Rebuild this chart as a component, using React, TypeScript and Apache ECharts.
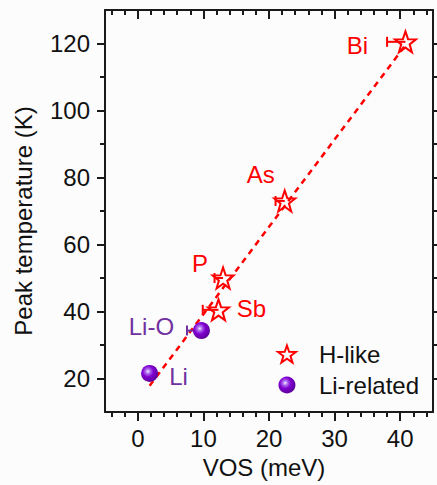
import React, { useEffect, useRef } from "react";
import * as echarts from "echarts";

// ---- data ----
const hNames = ["Bi", "As", "P", "Sb"];
const hVOS = [40.8, 22.4, 13.0, 12.3];
const hTemp = [120.5, 73.0, 50.0, 40.5];
const hVOSLow = [38.0, 21.0, 11.7, 9.9];

const liNames = ["Li-O", "Li"];
const liVOS = [9.7, 1.8];
const liTemp = [34.3, 21.5];
const liVOSLow: (number | null)[] = [7.5, null];

const fitVOS = [1.8, 40.8];
const fitTemp = [17.8, 119.5];

const xMajorTicks = [0, 10, 20, 30, 40];
const xMinorTicks = [-4, -2, 2, 4, 6, 8, 12, 14, 16, 18, 22, 24, 26, 28, 32, 34, 36, 38, 42, 44];
const yMajorTicks = [20, 40, 60, 80, 100, 120];
const yMinorTicks = [30, 50, 70, 90, 110];

// ---- styles ----
const FONT = "'Liberation Sans', Arial, sans-serif";
const AX = "#1a1a1a";
const RED = "#ff0000";
const PURPLE = "#7030a0";
const STAR =
  "path://M10,0 L12.351,6.764 L19.511,6.910 L13.804,11.236 L15.878,18.090 L10,14 L4.122,18.090 L6.196,11.236 L0.489,6.910 L7.649,6.764 Z";

const labelOffsets: Record<string, [number, number]> = {
  Bi: [-48, 4],
  As: [-24, -26],
  P: [-23, -15],
  Sb: [33, -1],
  "Li-O": [-50, -4],
  Li: [29, 3],
};

const sphereColor = new echarts.graphic.RadialGradient(0.4, 0.38, 0.65, [
  { offset: 0, color: "#f4efff" },
  { offset: 0.2, color: "#b070f0" },
  { offset: 0.5, color: "#8000d0" },
  { offset: 1, color: "#5a0095" },
]);

function errRender(color: string) {
  return (params: any, api: any) => {
    const y = api.value(1);
    const p = api.coord([api.value(0), y]);
    const lo = api.coord([api.value(2), y]);
    return {
      type: "group",
      children: [
        { type: "line", shape: { x1: lo[0], y1: p[1], x2: p[0], y2: p[1] }, style: { stroke: color, lineWidth: 2 } },
        { type: "line", shape: { x1: lo[0], y1: p[1] - 5, x2: lo[0], y2: p[1] + 5 }, style: { stroke: color, lineWidth: 2 } },
      ],
    };
  };
}

export default function App() {
  const ref = useRef<HTMLDivElement>(null);
  useEffect(() => {
    if (!ref.current) return;
    const chart = echarts.init(ref.current, null, { renderer: "svg" });
    const lineStyle = { color: AX, width: 2 };
    const baseX = { type: "value", min: -5, max: 45, splitLine: { show: false } };
    const baseY = { type: "value", min: 10, max: 130, splitLine: { show: false } };
    const labelText = { fontSize: 24, color: "#111", fontFamily: FONT };

    chart.setOption({
      animation: false,
      backgroundColor: "#fcfcfc",
      textStyle: { fontFamily: FONT },
      grid: { left: 105, right: 4, top: 10, bottom: 73, containLabel: false },
      legend: {
        data: ["H-like", "Li-related"],
        orient: "vertical",
        left: 272,
        top: 337,
        itemWidth: 18,
        itemHeight: 17,
        itemGap: 7,
        textStyle: { ...labelText, padding: [0, 0, 0, 18], lineHeight: 24 },
      },
      xAxis: [
        {
          ...baseX,
          position: "bottom",
          axisLine: { show: true, onZero: false, lineStyle },
          axisTick: { show: true, inside: false, length: 9, lineStyle, customValues: xMajorTicks },
          axisLabel: { customValues: xMajorTicks, margin: 14, ...labelText },
          name: "VOS (meV)",
          nameLocation: "middle",
          nameGap: 43,
          nameTextStyle: { ...labelText, padding: [0, 10, 0, 0] },
        },
        {
          ...baseX,
          position: "bottom",
          axisLine: { show: false, onZero: false },
          axisTick: { show: true, inside: false, length: 5, lineStyle, customValues: xMinorTicks },
          axisLabel: { show: false },
        },
        {
          ...baseX,
          position: "top",
          axisLine: { show: true, onZero: false, lineStyle },
          axisTick: { show: true, inside: true, length: 9, lineStyle, customValues: xMajorTicks },
          axisLabel: { show: false },
        },
        {
          ...baseX,
          position: "top",
          axisLine: { show: false, onZero: false },
          axisTick: { show: true, inside: true, length: 5, lineStyle, customValues: xMinorTicks },
          axisLabel: { show: false },
        },
      ],
      yAxis: [
        {
          ...baseY,
          position: "left",
          axisLine: { show: true, onZero: false, lineStyle },
          axisTick: { show: true, inside: false, length: 8, lineStyle, customValues: yMajorTicks },
          axisLabel: { customValues: yMajorTicks, margin: 15, ...labelText },
          name: "Peak temperature (K)",
          nameLocation: "middle",
          nameGap: 70,
          nameTextStyle: { ...labelText, padding: [0, 20, 0, 0] },
        },
        {
          ...baseY,
          position: "left",
          axisLine: { show: false, onZero: false },
          axisTick: { show: true, inside: false, length: 5, lineStyle, customValues: yMinorTicks },
          axisLabel: { show: false },
        },
        {
          ...baseY,
          position: "right",
          axisLine: { show: true, onZero: false, lineStyle },
          axisTick: { show: true, inside: false, length: 8, lineStyle, customValues: yMajorTicks },
          axisLabel: { show: false },
        },
        {
          ...baseY,
          position: "right",
          axisLine: { show: false, onZero: false },
          axisTick: { show: true, inside: false, length: 5, lineStyle, customValues: yMinorTicks },
          axisLabel: { show: false },
        },
      ],
      series: [
        {
          type: "line",
          name: "fit",
          data: fitVOS.map((x, i) => [x, fitTemp[i]]),
          showSymbol: false,
          symbol: "none",
          silent: true,
          lineStyle: { color: RED, width: 2.5, type: [6, 5] },
          z: 1,
        },
        {
          type: "custom",
          name: "H-err",
          data: hVOS.map((x, i) => [x, hTemp[i], hVOSLow[i]]),
          renderItem: errRender(RED),
          z: 2,
        },
        {
          type: "custom",
          name: "Li-err",
          data: liVOS
            .map((x, i) => [x, liTemp[i], liVOSLow[i]])
            .filter((d) => d[2] !== null),
          renderItem: errRender(PURPLE),
          z: 2,
        },
        {
          type: "scatter",
          name: "H-like",
          symbol: STAR,
          symbolSize: 21,
          itemStyle: { color: "rgba(255,255,255,0)", borderColor: RED, borderWidth: 2, opacity: 1 },
          label: {
            show: true,
            position: "inside",
            formatter: "{b}",
            color: RED,
            fontSize: 24,
            fontFamily: FONT,
          },
          data: hNames.map((n, i) => ({
            name: n,
            value: [hVOS[i], hTemp[i]],
            label: { offset: labelOffsets[n] },
          })),
          z: 3,
        },
        {
          type: "scatter",
          name: "Li-related",
          symbol: "circle",
          symbolSize: 17,
          itemStyle: { color: sphereColor, opacity: 1 },
          label: {
            show: true,
            position: "inside",
            formatter: "{b}",
            color: PURPLE,
            fontSize: 24,
            fontFamily: FONT,
          },
          data: liNames.map((n, i) => ({
            name: n,
            value: [liVOS[i], liTemp[i]],
            label: { offset: labelOffsets[n] },
          })),
          z: 3,
        },
      ],
    });
    return () => chart.dispose();
  }, []);
  return (
    <div
      ref={ref}
      style={{ position: "fixed", left: 0, top: 0, width: 437, height: 485 }}
    />
  );
}
